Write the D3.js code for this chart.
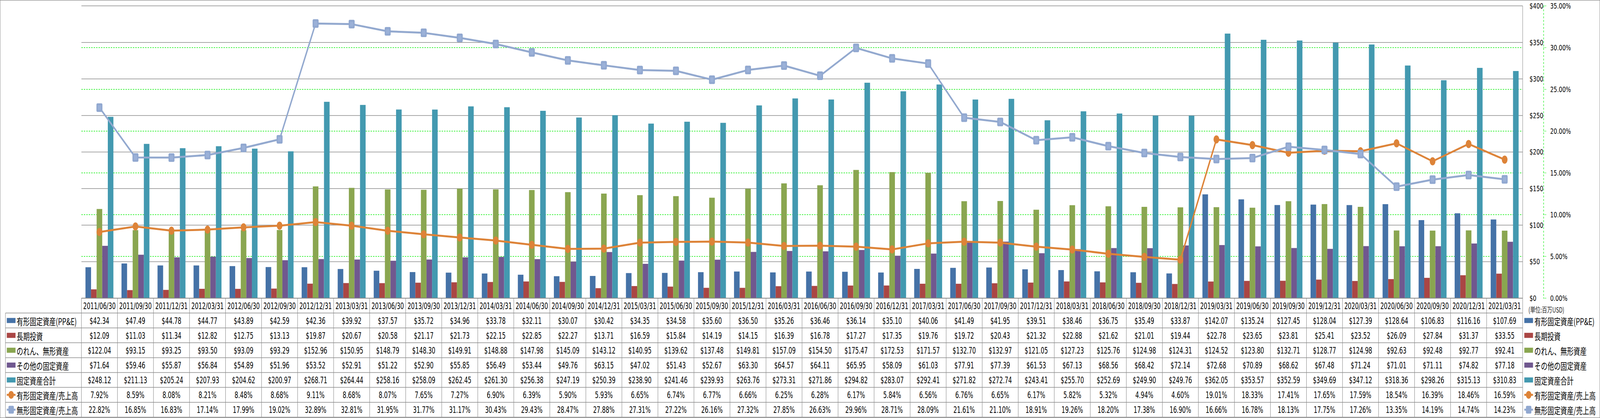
<!DOCTYPE html>
<html>
<head>
<meta charset="utf-8">
<script src="https://cdn.jsdelivr.net/npm/d3@7/dist/d3.min.js"></script>
<style>
html,body{margin:0;padding:0;background:#fff;overflow:hidden;width:100%;height:100%;}
svg{display:block;width:100vw;height:100vh;}
.cond{font-stretch:condensed;}
</style>
</head>
<body>
<svg id="chart" viewBox="0 0 5876 1071" preserveAspectRatio="none"></svg>
<script>
const categories = ["2011/06/30","2011/09/30","2011/12/31","2012/03/31","2012/06/30","2012/09/30","2012/12/31","2013/03/31","2013/06/30","2013/09/30","2013/12/31","2014/03/31","2014/06/30","2014/09/30","2014/12/31","2015/03/31","2015/06/30","2015/09/30","2015/12/31","2016/03/31","2016/06/30","2016/09/30","2016/12/31","2017/03/31","2017/06/30","2017/09/30","2017/12/31","2018/03/31","2018/06/30","2018/09/30","2018/12/31","2019/03/31","2019/06/30","2019/09/30","2019/12/31","2020/03/31","2020/06/30","2020/09/30","2020/12/31","2021/03/31"];

const ppe = [42.34,47.49,44.78,44.77,43.89,42.59,42.36,39.92,37.57,35.72,34.96,33.78,32.11,30.07,30.42,34.35,34.58,35.60,36.50,35.26,36.46,36.14,35.10,40.06,41.49,41.95,39.51,38.46,36.75,35.49,33.87,142.07,135.24,127.45,128.04,127.39,128.64,106.83,116.16,107.69];
const ltInvest = [12.09,11.03,11.34,12.82,12.75,13.13,19.87,20.67,20.58,21.17,21.73,22.15,22.85,22.27,13.71,16.59,15.84,14.19,14.15,16.39,16.78,17.27,17.35,19.76,19.72,20.43,21.32,22.88,21.62,21.01,19.44,22.78,23.65,23.81,25.41,23.52,26.09,27.84,31.37,33.55];
const goodwill = [122.04,93.15,93.25,93.50,93.09,93.29,152.96,150.95,148.79,148.30,149.91,148.88,147.98,145.09,143.12,140.95,139.62,137.48,149.81,157.09,154.50,175.47,172.53,171.57,132.70,132.97,121.05,127.23,125.76,124.98,124.31,124.52,123.80,132.71,128.77,124.98,92.63,92.48,92.77,92.41];
const otherAssets = [71.64,59.46,55.87,56.84,54.89,51.96,53.52,52.91,51.22,52.90,55.85,56.49,53.44,49.76,63.15,47.02,51.43,52.67,63.30,64.57,64.11,65.95,58.09,61.03,77.91,77.39,61.53,67.13,68.56,68.42,72.14,72.68,70.89,68.62,67.48,71.24,71.01,71.11,74.82,77.18];
const totalAssets = [248.12,211.13,205.24,207.93,204.62,200.97,268.71,264.44,258.16,258.09,262.45,261.30,256.38,247.19,250.39,238.90,241.46,239.93,263.76,273.31,271.86,294.82,283.07,292.41,271.82,272.74,243.41,255.70,252.69,249.90,249.76,362.05,353.57,352.59,349.69,347.12,318.36,298.26,315.13,310.83];
const ppeRatio = [7.92,8.59,8.08,8.21,8.48,8.68,9.11,8.68,8.07,7.65,7.27,6.90,6.39,5.90,5.93,6.65,6.74,6.77,6.66,6.25,6.28,6.17,5.84,6.56,6.76,6.65,6.17,5.82,5.32,4.94,4.60,19.01,18.33,17.41,17.65,17.59,18.54,16.39,18.46,16.59];
const intangibleRatio = [22.82,16.85,16.83,17.14,17.99,19.02,32.89,32.81,31.95,31.77,31.17,30.43,29.43,28.47,27.88,27.31,27.22,26.16,27.32,27.85,26.63,29.96,28.71,28.09,21.61,21.10,18.91,19.26,18.20,17.38,16.90,16.66,16.78,18.13,17.75,17.26,13.35,14.19,14.74,14.23];

const barNames = ["有形固定資産(PP&E)","長期投資","のれん、無形資産","その他の固定資産","固定資産合計"];
const barColors = ["#4572A7","#AA4644","#8AA650","#70588F","#4399B0"];
const lineNames = ["有形固定資産/売上高","無形固定資産/売上高"];
const lineColors = ["#DD8338","#93A9CF"];
const leftTicks = [0,50,100,150,200,250,300,350,400];
const rightTicks = [0,5,10,15,20,25,30,35];
const unitLabel = "(単位:百万USD)";

const barSeries = [ppe, ltInvest, goodwill, otherAssets, totalAssets];
const lineSeries = [ppeRatio, intangibleRatio];

const svg = d3.select("#chart");
const W = 5876, H = 1071;
const plotL = 299, plotR = 5592, plotT = 15, plotB = 764;
const rowH = 38.1;
const gridGray = "#8a8a8a";
const numFont = "'DejaVu Sans Condensed','DejaVu Sans',sans-serif";
const cjkFont = "'Noto Sans CJK JP','Noto Sans',sans-serif";
const axisFont = "'DejaVu Sans','Verdana',sans-serif";

svg.append("rect").attr("x",0.5).attr("y",0.5).attr("width",W-1).attr("height",H-1)
  .attr("fill","#fff").attr("stroke",gridGray).attr("stroke-width",1.5);

const x = d3.scaleBand().domain(categories).range([plotL, plotR]).paddingInner(0).paddingOuter(0);
const xInner = d3.scaleBand().domain(d3.range(5)).range([0, x.bandwidth()]).paddingInner(0).paddingOuter(0.725);
const yL = d3.scaleLinear().domain([0,400]).range([plotB, plotT]);
const yR = d3.scaleLinear().domain([0,35]).range([plotB, plotT]);

// gray gridlines (left value axis)
svg.append("g").selectAll("line").data(leftTicks.filter(d=>d>0)).join("line")
  .attr("x1",plotL).attr("x2",plotR)
  .attr("y1",d=>yL(d)).attr("y2",d=>yL(d))
  .attr("stroke",gridGray).attr("stroke-width",1.5);

// green dashed gridlines (right % axis)
svg.append("g").selectAll("line").data(rightTicks.filter(d=>d>0 && d<35)).join("line")
  .attr("x1",plotL).attr("x2",plotR)
  .attr("y1",d=>yR(d)).attr("y2",d=>yR(d))
  .attr("stroke","#00EE00").attr("stroke-width",1.5).attr("stroke-dasharray","5,4");

// bars
const gBars = svg.append("g");
barSeries.forEach((vals, si) => {
  gBars.append("g").selectAll("rect").data(vals).join("rect")
    .attr("x",(d,i)=>x(categories[i]) + xInner(si))
    .attr("width",xInner.bandwidth())
    .attr("y",d=>yL(d))
    .attr("height",d=>yL(0)-yL(d))
    .attr("fill",barColors[si]);
});

// plot right border
svg.append("line").attr("x1",plotR).attr("x2",plotR).attr("y1",plotT).attr("y2",plotB)
  .attr("stroke",gridGray).attr("stroke-width",1.5);

// lines
const cx = i => x(categories[i]) + x.bandwidth()/2;
lineSeries.forEach((vals, li) => {
  const line = d3.line().x((d,i)=>cx(i)).y(d=>yR(d));
  svg.append("path").datum(vals).attr("d",line)
    .attr("fill","none").attr("stroke",lineColors[li]).attr("stroke-width",5)
    .attr("stroke-linejoin","round");
});
// markers
svg.append("g").selectAll("circle").data(ppeRatio).join("circle")
  .attr("cx",(d,i)=>cx(i)).attr("cy",d=>yR(d)).attr("r",10.5)
  .attr("fill",lineColors[0]);
const gSq = svg.append("g");
gSq.selectAll("rect.o").data(intangibleRatio).join("rect").attr("class","o")
  .attr("x",(d,i)=>cx(i)-11).attr("y",d=>yR(d)-11).attr("width",22).attr("height",22).attr("rx",4)
  .attr("fill","#91A8D0");
gSq.selectAll("rect.i").data(intangibleRatio).join("rect").attr("class","i")
  .attr("x",(d,i)=>cx(i)-6).attr("y",d=>yR(d)-6).attr("width",12).attr("height",12)
  .attr("fill","#9BB1D8");

// right axes
const gAx = svg.append("g");
gAx.selectAll("text.l").data(leftTicks).join("text").attr("class","l")
  .attr("x",5617).attr("y",d=>yL(d)).attr("dominant-baseline","central")
  .attr("font-family",axisFont).attr("font-size",20).attr("fill","#000")
  .text(d=>"$"+d);
gAx.append("line").attr("x1",5669).attr("x2",5669).attr("y1",plotT).attr("y2",plotB)
  .attr("stroke","#00EE00").attr("stroke-width",1.5).attr("stroke-dasharray","5,4");
gAx.selectAll("line.t").data(rightTicks).join("line").attr("class","t")
  .attr("x1",5669).attr("x2",5679).attr("y1",d=>yR(d)).attr("y2",d=>yR(d))
  .attr("stroke","#00EE00").attr("stroke-width",1.5).attr("stroke-dasharray","3,3");
gAx.selectAll("text.r").data(rightTicks).join("text").attr("class","r")
  .attr("x",5693).attr("y",d=>yR(d)).attr("dominant-baseline","central")
  .attr("font-family",axisFont).attr("font-size",20).attr("fill","#000")
  .text(d=>d.toFixed(2)+"%");
svg.append("text").attr("x",5613).attr("y",793).attr("dominant-baseline","central")
  .attr("font-family",cjkFont).attr("font-size",19).attr("fill","#222").text(unitLabel);

// data table
const tbl = svg.append("g");
const rowTop = r => plotB + r*rowH;   // r=0 header
const legL = 20;
const allNames = barNames.concat(lineNames);
const rows = [
  ...barSeries.map(v => v.map(d => "$" + d.toFixed(2))),
  ...lineSeries.map(v => v.map(d => d.toFixed(2) + "%"))
];
tbl.append("line").attr("x1",plotL).attr("x2",plotR).attr("y1",rowTop(0)).attr("y2",rowTop(0))
  .attr("stroke",gridGray).attr("stroke-width",2);
for (let r=1; r<=8; r++) {
  tbl.append("line").attr("x1",legL).attr("x2",plotR).attr("y1",rowTop(r)).attr("y2",rowTop(r))
    .attr("stroke",gridGray).attr("stroke-width",1.5);
}
tbl.append("line").attr("x1",legL).attr("x2",legL).attr("y1",rowTop(1)).attr("y2",rowTop(8))
  .attr("stroke",gridGray).attr("stroke-width",1.5);
tbl.selectAll("line.v").data(categories.concat(["end"])).join("line").attr("class","v")
  .attr("x1",(d,i)=> i<categories.length ? x(d) : plotR)
  .attr("x2",(d,i)=> i<categories.length ? x(d) : plotR)
  .attr("y1",rowTop(0)).attr("y2",rowTop(8))
  .attr("stroke",gridGray).attr("stroke-width",1.5);
tbl.selectAll("text.h").data(categories).join("text").attr("class","h cond")
  .attr("x",d=>x(d)+x.bandwidth()/2).attr("y",rowTop(0)+rowH/2+1)
  .attr("text-anchor","middle").attr("dominant-baseline","central")
  .attr("font-family",numFont).attr("font-size",23).attr("fill","#000").text(d=>d);
rows.forEach((vals, r) => {
  tbl.append("g").selectAll("text").data(vals).join("text").attr("class","cond")
    .attr("x",(d,i)=>x(categories[i])+x.bandwidth()/2).attr("y",rowTop(r+1)+rowH/2+1)
    .attr("text-anchor","middle").attr("dominant-baseline","central")
    .attr("font-family",numFont).attr("font-size",23).attr("fill","#000").text(d=>d);
});

function drawKey(g, kx, ky, idx) {
  if (idx < 5) {
    g.append("rect").attr("x",kx).attr("y",ky-6.5).attr("width",32).attr("height",13).attr("fill",barColors[idx]);
  } else if (idx === 5) {
    g.append("line").attr("x1",kx).attr("x2",kx+32).attr("y1",ky).attr("y2",ky)
      .attr("stroke",lineColors[0]).attr("stroke-width",5);
    g.append("circle").attr("cx",kx+16).attr("cy",ky).attr("r",10).attr("fill",lineColors[0]);
  } else {
    g.append("line").attr("x1",kx).attr("x2",kx+32).attr("y1",ky).attr("y2",ky)
      .attr("stroke",lineColors[1]).attr("stroke-width",5);
    g.append("rect").attr("x",kx+6).attr("y",ky-10).attr("width",20).attr("height",20).attr("rx",4).attr("fill","#91A8D0");
  }
}
allNames.forEach((name, i) => {
  const cy = rowTop(i+1) + rowH/2;
  drawKey(tbl, 25, cy, i);
  tbl.append("text").attr("x",61).attr("y",cy+1).attr("dominant-baseline","central")
    .attr("font-family",cjkFont).attr("font-size",24).attr("fill","#000").text(name);
  drawKey(svg, 5598, cy, i);
  svg.append("text").attr("x",5635).attr("y",cy+1).attr("dominant-baseline","central")
    .attr("font-family",cjkFont).attr("font-size",24).attr("fill","#000").text(name);
});
</script>
</body>
</html>
